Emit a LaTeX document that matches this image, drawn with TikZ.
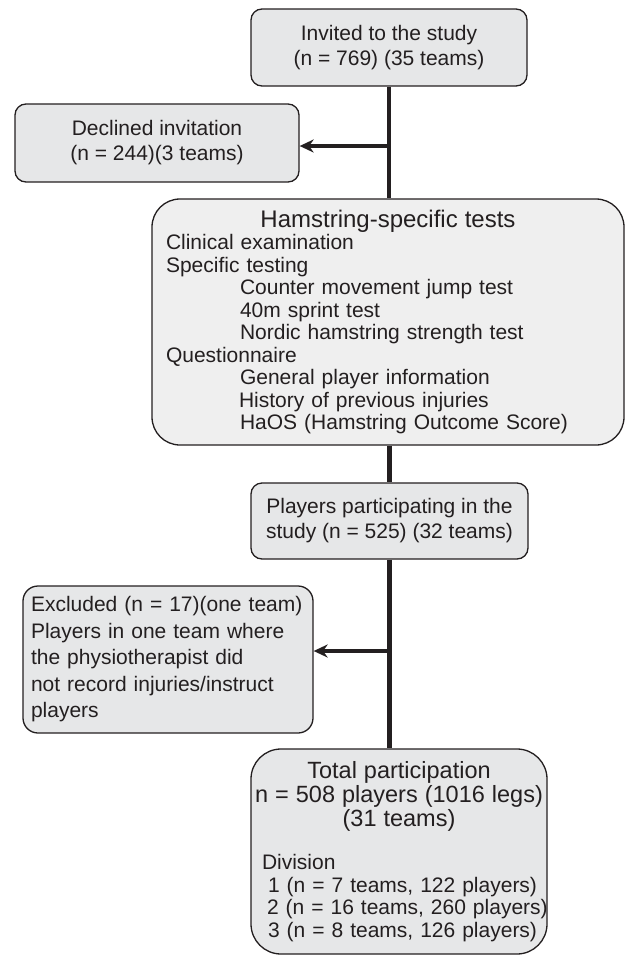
\documentclass[tikz,border=0pt]{standalone}
\usepackage{fontspec}
\setmainfont{Liberation Sans}
\usetikzlibrary{%
  arrows.meta,
  calc
}

\definecolor{boxgray}{RGB}{230,231,232}
\definecolor{testgray}{RGB}{239,239,239}
\definecolor{ink}{RGB}{35,31,32}

\begin{document}
\begin{tikzpicture}[x=1pt, y=-1pt,
    box/.style={draw=ink, line width=1.3pt, fill=boxgray, text=ink,
      rounded corners=11pt, align=center, inner sep=0pt,
      font=\fontsize{21}{25}\selectfont},
    flow/.style={draw=ink, line width=4.5pt},
    exit/.style={flow, -{Stealth[length=14pt,width=13pt]}}]

    \useasboundingbox (0,0) rectangle (628,956);

    \node[box, minimum width=276pt, minimum height=77pt] (invited) at (389,47.5)
        {Invited to the study\\(n = 769) (35 teams)};
    \node[box, minimum width=284pt, minimum height=78pt] (declined) at (157,143)
        {Declined invitation\\(n = 244)(3 teams)};

    \node[box, fill=testgray, rounded corners=28pt, align=left,
          text width=444pt, inner xsep=14pt, minimum height=246pt,
          font=\fontsize{21}{22.5}\selectfont] (tests) at (388,322)
        {\makebox[444pt][c]{\fontsize{24}{26}\selectfont Hamstring-specific tests}\\
         Clinical examination\\
         Specific testing\\
         \hspace*{74pt}Counter movement jump test\\
         \hspace*{74pt}40m sprint test\\
         \hspace*{74pt}Nordic hamstring strength test\\
         Questionnaire\\
         \hspace*{74pt}General player information\\
         \hspace*{73pt}History of previous injuries\\
         \hspace*{74pt}HaOS (Hamstring Outcome Score)};

    \node[box, minimum width=277pt, minimum height=76pt] (players) at (389.5,521)
        {Players participating in the\\study (n = 525) (32 teams)};

    \node[box, rounded corners=15pt, align=left, text width=274pt,
          inner xsep=8pt, minimum height=147pt,
          font=\fontsize{21}{26.5}\selectfont] (excluded) at (168,659.5)
        {Excluded (n = 17)(one team)\\
         Players in one team where\\
         the physiotherapist did\\
         not record injuries/instruct\\
         players};

    \node[box, rounded corners=30pt, align=left, text width=288pt,
          inner xsep=4pt, minimum height=205pt,
          font=\fontsize{21}{22.5}\selectfont] (total) at (399,851.5)
        {\makebox[288pt][c]{\fontsize{23.5}{25}\selectfont Total participation}\\[2pt]
         \makebox[288pt][c]{\fontsize{23.5}{25}\selectfont n = 508 players (1016 legs)}\\[1pt]
         \makebox[288pt][c]{\fontsize{23.5}{25}\selectfont (31 teams)}\\[21pt]
         \mbox{\hspace*{7pt}Division}\\
         \mbox{\hspace*{13pt}1 (n = 7 teams, 122 players)}\\
         \mbox{\hspace*{12pt}2 (n = 16 teams, 260 players)}\\
         \mbox{\hspace*{13pt}3 (n = 8 teams, 126 players)}};

    % main line and the two exits
    \coordinate (j1) at (389,146);
    \coordinate (j2) at (389,651);

    \draw[flow] (invited) -- (invited |- tests.north);
    \draw[flow] (tests.south -| players) -- (players);
    \draw[flow] (players) -- (players |- total.north);

    \draw[exit] (j1) -- (j1 -| declined.east);
    \draw[exit] (j2) -- (j2 -| excluded.east);

\end{tikzpicture}
\end{document}
